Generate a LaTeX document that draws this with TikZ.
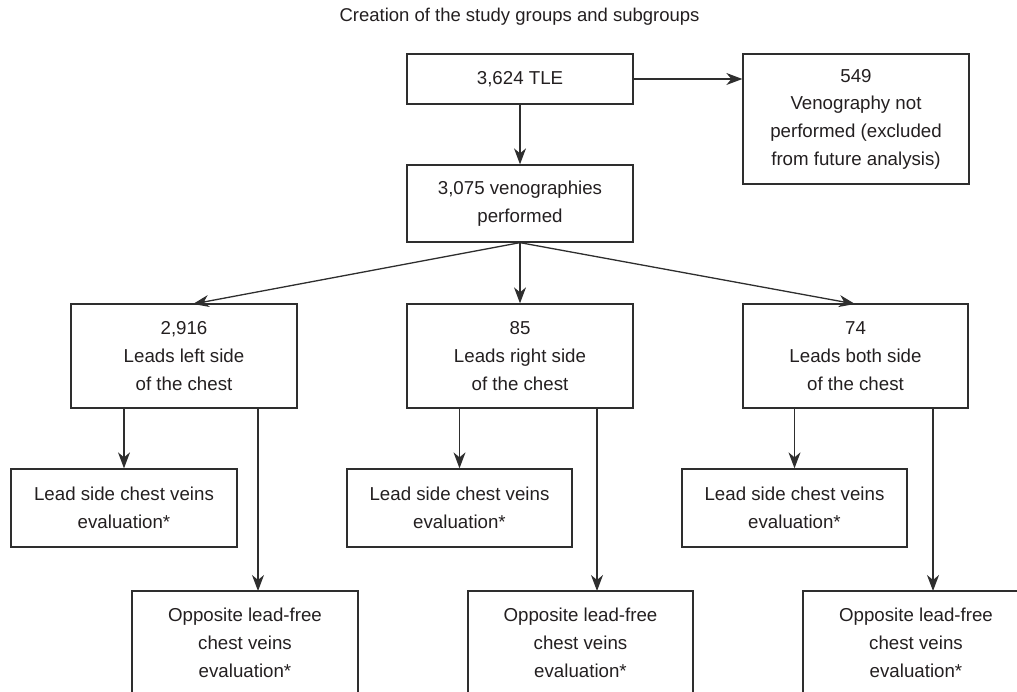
\documentclass[tikz,border=0pt]{standalone}
\usepackage{fontspec}
\setmainfont{Liberation Sans}
\usetikzlibrary{arrows.meta,calc}
\definecolor{txt}{HTML}{231F20}
\definecolor{ln}{HTML}{2E2E2E}
\begin{document}
\begin{tikzpicture}[x=1pt,y=-1pt,
  box/.style={draw=ln,line width=1.3pt,text=txt,align=center,inner sep=0pt,
    font=\fontsize{18.7}{27.7}\selectfont},
  arr/.style={draw=ln,line width=1.3pt,-{Stealth[length=16pt,width=12pt,inset=5pt]}},
  plain/.style={draw=ln,line width=1.3pt}]
\useasboundingbox (0,0) rectangle (1017,692);
\node[text=txt,font=\fontsize{18.5}{22}\selectfont] (title) at (519.5,17) {Creation of the study groups and subgroups};
\node[box,minimum width=226pt,minimum height=50pt] (tle) at (520,79) {3,624 TLE};
\node[box,minimum width=226pt,minimum height=130pt] (excl) at (856,119) {549\\Venography not\\performed (excluded\\from future analysis)};
\node[box,minimum width=226pt,minimum height=77pt] (ven) at (520,203.5) {3,075 venographies\\performed};
\node[box,minimum width=226pt,minimum height=104pt] (left) at (184,356) {2,916\\Leads left side\\of the chest};
\node[box,minimum width=226pt,minimum height=104pt] (right) at (520,356) {85\\Leads right side\\of the chest};
\node[box,minimum width=225pt,minimum height=104pt] (both) at (855.5,356) {74\\Leads both side\\of the chest};
\node[box,minimum width=226pt,minimum height=78pt] (ls1) at (124,508) {Lead side chest veins\\evaluation*};
\node[box,minimum width=225pt,minimum height=78pt] (ls2) at (459.5,508) {Lead side chest veins\\evaluation*};
\node[box,minimum width=225pt,minimum height=78pt] (ls3) at (794.5,508) {Lead side chest veins\\evaluation*};
\node[box,minimum width=226pt,minimum height=104pt] (op1) at (245,643) {Opposite lead-free\\chest veins\\evaluation*};
\node[box,minimum width=225pt,minimum height=104pt] (op2) at (580.5,643) {Opposite lead-free\\chest veins\\evaluation*};
\node[box,minimum width=226pt,minimum height=104pt] (op3) at (916,643) {Opposite lead-free\\chest veins\\evaluation*};
\coordinate (o1) at (258,591);
\coordinate (o2) at (597,591);
\coordinate (o3) at (933,591);
\coordinate (t1) at (193,304);
\coordinate (t3) at (855,304);
\draw[arr] (tle.east) -- (tle.east -| excl.west);
\draw[arr] (tle.south) -- (ven.north);
\draw[arr] (ven.south) -- (t1);
\draw[arr] (ven.south) -- (right.north);
\draw[arr] (ven.south) -- (t3);
\draw[arr] (left.south -| ls1.north) -- (ls1.north);
\draw[arr] (right.south -| ls2.north) -- (ls2.north);
\draw[arr] (both.south -| ls3.north) -- (ls3.north);
\draw[arr] (left.south -| o1) -- (o1);
\draw[arr] (right.south -| o2) -- (o2);
\draw[arr] (both.south -| o3) -- (o3);
\end{tikzpicture}
\end{document}
